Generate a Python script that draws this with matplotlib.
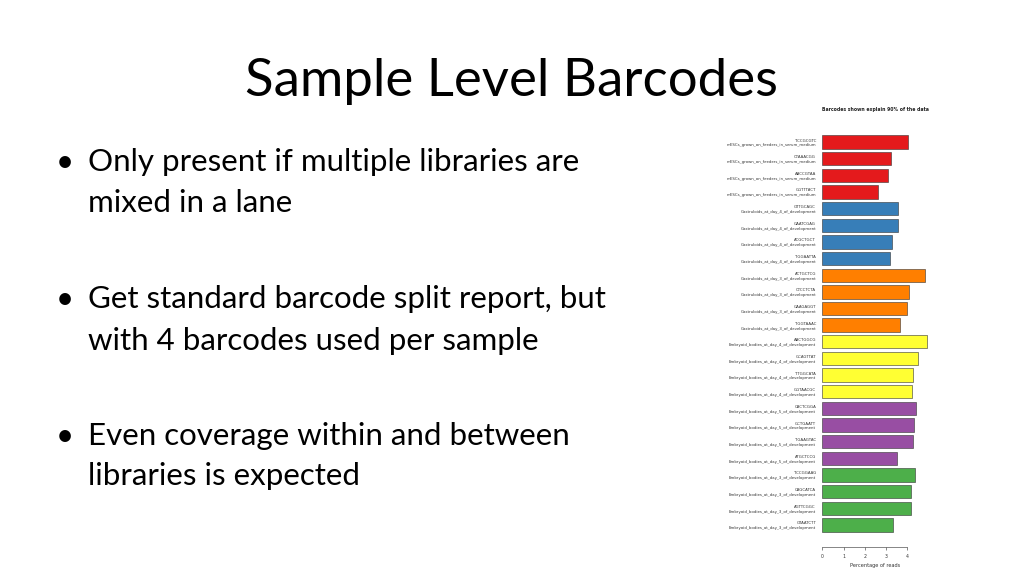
import matplotlib
matplotlib.use("Agg")
import matplotlib.pyplot as plt

W, H = 1024, 575

# ---- data ----
barcodes = ["TCCGCGTC", "CTAAACGG", "AACCGTAA", "GGTTTACT",
            "GTTGCAGC", "GAATCGAG", "ACGCTGCT", "TGGAATTA",
            "ACTGCTCG", "CTCCTCTA", "GAAGAGGT", "TGGTAAAC",
            "AACTGGCG", "GCAGTTAT", "TTGGCATA", "GGTAACGC",
            "CACTCGGA", "GCTGAATT", "TGAAGTAC", "ATGCTCCG",
            "TCCGGAAG", "CAGCATCA", "AGTTCGGC", "GTAATCTT"]
sample_names = (["mESCs_grown_on_feeders_in_serum_medium"] * 4
                + ["Gastruloids_at_day_4_of_development"] * 4
                + ["Gastruloids_at_day_3_of_development"] * 4
                + ["Embryoid_bodies_at_day_4_of_development"] * 4
                + ["Embryoid_bodies_at_day_5_of_development"] * 4
                + ["Embryoid_bodies_at_day_3_of_development"] * 4)
percent_reads = [4.05, 3.23, 3.08, 2.62,
                 3.58, 3.55, 3.26, 3.17,
                 4.83, 4.08, 3.99, 3.65,
                 4.94, 4.50, 4.27, 4.22,
                 4.39, 4.30, 4.25, 3.52,
                 4.37, 4.19, 4.18, 3.34]
x_ticks = [0, 1, 2, 3, 4]
sample_colors = {
    "mESCs_grown_on_feeders_in_serum_medium": "#E41A1C",
    "Gastruloids_at_day_4_of_development": "#377EB8",
    "Gastruloids_at_day_3_of_development": "#FF7F00",
    "Embryoid_bodies_at_day_4_of_development": "#FFFF33",
    "Embryoid_bodies_at_day_5_of_development": "#984EA3",
    "Embryoid_bodies_at_day_3_of_development": "#4DAF4A",
}
chart_title = "Barcodes shown explain 90% of the data"
x_label = "Percentage of reads"

slide_title = "Sample Level Barcodes"
bullets = [
    ["Only present if multiple libraries are", "mixed in a lane"],
    ["Get standard barcode split report, but", "with 4 barcodes used per sample"],
    ["Even coverage within and between", "libraries is expected"],
]

# ---- figure ----
fig = plt.figure(figsize=(W / 100, H / 100), dpi=100)
fig.patch.set_facecolor("white")

def fx(px):
    return px / W

def fy(py):
    return 1 - py / H

slide_font = ["Lato", "DejaVu Sans"]

fig.text(fx(511), fy(96), slide_title, ha="center", va="baseline",
         fontsize=38, family=slide_font, color="black")

baselines = [(171, 212), (308, 350), (445, 485)]
for (l1, l2), (b1, b2) in zip(bullets, baselines):
    fig.text(fx(56), fy(b1), "\u2022", ha="left", va="baseline",
             fontsize=22.5, family=slide_font)
    fig.text(fx(88), fy(b1), l1, ha="left", va="baseline",
             fontsize=22.5, family=slide_font)
    fig.text(fx(88), fy(b2), l2, ha="left", va="baseline",
             fontsize=22.5, family=slide_font)

# ---- bar chart ----
px_per_unit = 21.25
pitch = 16.65
ax_left = 822.3
ax_w = 5 * px_per_unit
top_center = 142.0
ax_top = top_center - 0.6 * pitch
ax_h = 24.2 * pitch
ax = fig.add_axes([fx(ax_left), fy(ax_top + ax_h), ax_w / W, ax_h / H])

n = len(barcodes)
ypos = list(range(n))
cols = [sample_colors[s] for s in sample_names]
ax.barh(ypos, percent_reads, height=0.8, color=cols,
        edgecolor="#333333", linewidth=0.4)
ax.set_xlim(0, 5)
ax.set_ylim(n - 1 + 0.6, -0.6)

labels = [f"{b}\n{s}" for b, s in zip(barcodes, sample_names)]
ax.set_yticks(ypos)
ax.set_yticklabels(labels, fontsize=2.8, color="#333333", linespacing=1.3)
ax.tick_params(axis="y", length=0, pad=4.5)

for sp in ["top", "right", "left"]:
    ax.spines[sp].set_visible(False)
ax.spines["bottom"].set_position(("outward", 9))
ax.spines["bottom"].set_bounds(0, 4)
ax.spines["bottom"].set_linewidth(0.5)
ax.spines["bottom"].set_color("#555555")
ax.set_xticks(x_ticks)
ax.set_xticklabels([str(t) for t in x_ticks], fontsize=3.3, color="#333333")
ax.tick_params(axis="x", length=2.5, width=0.5, pad=2, color="#555555")
ax.set_xlabel(x_label, fontsize=3.6, color="#333333", labelpad=3)

fig.text(fx(875), fy(109), chart_title, ha="center", va="center",
         fontsize=3.3, fontweight="bold", color="#222222")

fig.savefig("out.png", dpi=100, facecolor="white")
